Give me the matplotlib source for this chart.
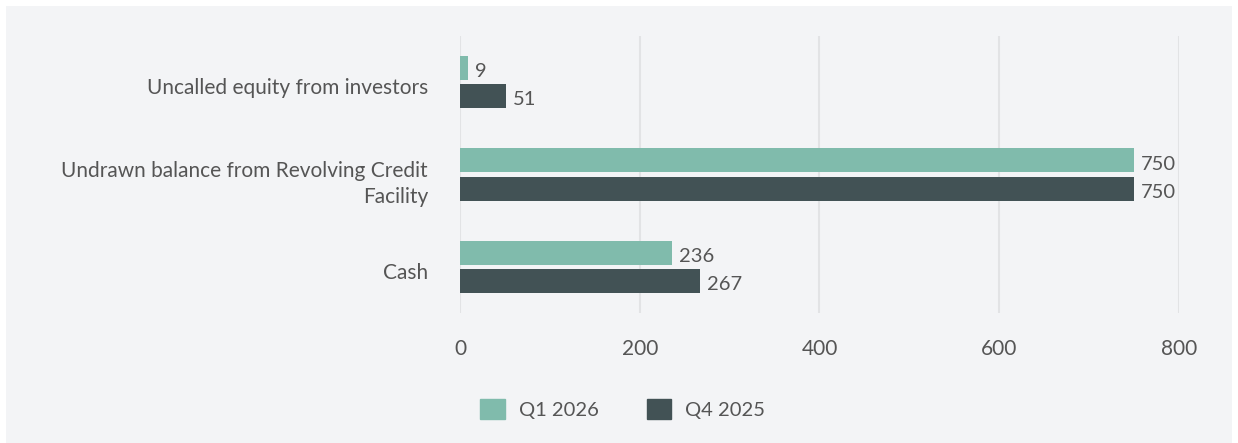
import matplotlib.pyplot as plt
import numpy as np
from matplotlib.patches import Rectangle, Patch

plt.rcParams['font.family'] = ['Lato', 'DejaVu Sans']

categories = ["Uncalled equity from investors",
              "Undrawn balance from Revolving Credit\nFacility",
              "Cash"]
q1_2026 = [9, 750, 236]
q4_2025 = [51, 750, 267]
series_names = ["Q1 2026", "Q4 2025"]
xticks = [0, 200, 400, 600, 800]

teal = "#80bbac"
slate = "#425255"
txt = "#555555"
bg = "#f3f4f6"

fig = plt.figure(figsize=(12.38, 4.43), dpi=100)
fig.patch.set_facecolor("white")
fig.patches.append(Rectangle((6 / 1238, 0), 1226 / 1238, 437 / 443,
                             transform=fig.transFigure, facecolor=bg,
                             edgecolor="none", zorder=-10))

ax = fig.add_axes([460 / 1238, 1 - 313 / 443, 719 / 1238, 277 / 443])
ax.set_facecolor(bg)

y = np.arange(len(categories))
h = 0.26
off = 0.152
b1 = ax.barh(y - off, q1_2026, height=h, color=teal, zorder=3)
b2 = ax.barh(y + off, q4_2025, height=h, color=slate, zorder=3)
for bars, vals in ((b1, q1_2026), (b2, q4_2025)):
    for bar, v in zip(bars, vals):
        ax.text(v + 8, bar.get_y() + bar.get_height() / 2 + 0.04, str(v),
                va="center", ha="left", fontsize=14.5, color=txt)

ax.set_ylim(2.5, -0.5)
ax.set_xlim(0, 800)
ax.set_xticks(xticks)
ax.set_xticklabels([str(t) for t in xticks])
# category labels sit a little below the pair centre
ax.set_yticks(y + 0.045)
ax.set_yticklabels(categories, linespacing=1.4)
ax.tick_params(axis="x", length=0, pad=19, labelsize=15, labelcolor=txt)
ax.tick_params(axis="y", length=0, pad=23, labelsize=15, labelcolor=txt)
for s in ax.spines.values():
    s.set_visible(False)
ax.grid(axis="x", color="#e2e3e5", linewidth=1.5, zorder=0)
ax.grid(axis="y", visible=False)
ax.set_axisbelow(True)

handles = [Patch(color=teal), Patch(color=slate)]
fig.legend(handles, series_names, loc="center", bbox_to_anchor=(0.503, 0.077),
           ncol=2, frameon=False, fontsize=14.5, labelcolor=txt,
           handlelength=1.2, handleheight=1.2, handletextpad=0.7,
           columnspacing=2.4)

fig.savefig("out.png", dpi=100, facecolor=fig.get_facecolor())
